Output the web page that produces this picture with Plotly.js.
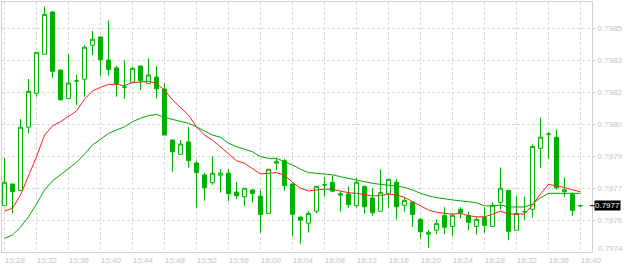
<!DOCTYPE html>
<html>
<head>
<meta charset="utf-8">
<script src="https://cdn.plot.ly/plotly-3.0.1.min.js"></script>
<style>
html,body{margin:0;padding:0;background:#fff;}
#chart{width:624px;height:266px;}
</style>
</head>
<body>
<div id="chart"></div>
<script>
// 1-minute candles, 15:28 .. 16:40
const openP = [0.797667,0.797769,0.797739,0.798035,0.798194,0.798377,0.798575,0.798303,0.798169,0.798252,
0.798260,0.798419,0.798458,0.798350,0.798313,0.798223,0.798246,0.798322,0.798239,0.798270,
0.798214,0.797975,0.797908,0.797966,0.797867,0.797811,0.797775,0.797810,0.797820,0.797731,
0.797709,0.797741,0.797712,0.797631,0.797866,0.797878,0.797769,0.797614,0.797585,0.797641,
0.797765,0.797777,0.797723,0.797722,0.797667,0.797758,0.797703,0.797641,0.797723,0.797777,
0.797669,0.797684,0.797603,0.797533,0.797552,0.797622,0.797570,0.797650,0.797622,0.797570,
0.797613,0.797570,0.797683,0.797739,0.797552,0.797639,0.797650,0.797936,0.798003,0.797988,
0.797733,0.797720,0.797667];
const highP = [0.797891,0.797769,0.798073,0.798261,0.798386,0.798600,0.798580,0.798303,0.798378,0.798280,
0.798420,0.798486,0.798458,0.798536,0.798322,0.798349,0.798319,0.798322,0.798358,0.798322,
0.798241,0.797975,0.797975,0.798036,0.797877,0.797820,0.797900,0.797839,0.797838,0.797778,
0.797749,0.797741,0.797741,0.797838,0.797892,0.797887,0.797769,0.797614,0.797642,0.797758,
0.797802,0.797808,0.797735,0.797758,0.797798,0.797758,0.797749,0.797838,0.797791,0.797792,
0.797709,0.797689,0.797609,0.797553,0.797603,0.797660,0.797631,0.797660,0.797639,0.797615,
0.797660,0.797684,0.797847,0.797739,0.797711,0.797709,0.797955,0.798081,0.798012,0.798025,
0.797800,0.797728,0.797670];
const lowP = [0.797666,0.797631,0.797736,0.798006,0.798178,0.798377,0.798267,0.798159,0.798169,0.798140,
0.798178,0.798373,0.798276,0.798276,0.798178,0.798167,0.798242,0.798209,0.798239,0.798169,
0.797998,0.797825,0.797908,0.797845,0.797658,0.797690,0.797765,0.797728,0.797688,0.797698,
0.797667,0.797681,0.797540,0.797631,0.797834,0.797737,0.797525,0.797487,0.797541,0.797631,
0.797709,0.797731,0.797639,0.797658,0.797658,0.797630,0.797620,0.797641,0.797658,0.797601,
0.797639,0.797567,0.797512,0.797470,0.797533,0.797533,0.797524,0.797606,0.797552,0.797531,
0.797540,0.797570,0.797650,0.797505,0.797552,0.797600,0.797611,0.797845,0.797887,0.797741,
0.797709,0.797620,0.797661];
const closeP = [0.797777,0.797733,0.798035,0.798203,0.798386,0.798564,0.798297,0.798164,0.798242,0.798252,
0.798410,0.798447,0.798351,0.798305,0.798239,0.798223,0.798311,0.798253,0.798280,0.798215,
0.797998,0.797920,0.797956,0.797878,0.797822,0.797751,0.797819,0.797820,0.797723,0.797714,
0.797749,0.797724,0.797625,0.797838,0.797875,0.797761,0.797627,0.797599,0.797631,0.797758,
0.797765,0.797735,0.797717,0.797672,0.797777,0.797662,0.797634,0.797728,0.797791,0.797662,
0.797692,0.797625,0.797545,0.797542,0.797583,0.797566,0.797622,0.797634,0.797589,0.797603,
0.797575,0.797669,0.797749,0.797547,0.797631,0.797639,0.797945,0.797988,0.798003,0.797751,
0.797742,0.797645,0.797667];
// fast moving average (red)
const maFast = [0.797642,0.797655,0.797717,0.797803,0.797897,0.797998,0.798041,0.798061,0.798088,0.798111,
0.798166,0.798205,0.798222,0.798236,0.798236,0.798230,0.798244,0.798248,0.798250,0.798241,
0.798209,0.798163,0.798128,0.798092,0.798037,0.797998,0.797975,0.797944,0.797913,0.797878,
0.797866,0.797842,0.797816,0.797819,0.797822,0.797811,0.797777,0.797749,0.797736,0.797741,
0.797745,0.797744,0.797736,0.797728,0.797725,0.797720,0.797713,0.797714,0.797722,0.797717,
0.797706,0.797686,0.797666,0.797647,0.797636,0.797631,0.797627,0.797631,0.797620,0.797615,
0.797615,0.797627,0.797642,0.797628,0.797628,0.797628,0.797670,0.797722,0.797767,0.797759,
0.797753,0.797741,0.797733];
// slow moving average (green)
const maSlow = [0.797514,0.797530,0.797566,0.797615,0.797675,0.797741,0.797783,0.797811,0.797842,0.797870,
0.797909,0.797952,0.797978,0.798006,0.798022,0.798037,0.798061,0.798077,0.798089,0.798095,
0.798081,0.798072,0.798065,0.798053,0.798037,0.798019,0.797998,0.797988,0.797960,0.797944,
0.797931,0.797920,0.797897,0.797889,0.797889,0.797873,0.797858,0.797838,0.797822,0.797819,
0.797817,0.797812,0.797803,0.797795,0.797789,0.797780,0.797772,0.797767,0.797764,0.797759,
0.797753,0.797741,0.797725,0.797713,0.797705,0.797698,0.797694,0.797690,0.797686,0.797681,
0.797666,0.797666,0.797670,0.797661,0.797661,0.797661,0.797675,0.797704,0.797725,0.797725,
0.797725,0.797725,0.797725];
const timeLabels = ['15:28','15:32','15:36','15:40','15:44','15:48','15:52','15:56','16:00','16:04',
'16:08','16:12','16:16','16:20','16:24','16:28','16:32','16:36','16:40'];
const priceTickVals = [0.7976,0.79775,0.7979,0.79805,0.7982,0.79835,0.7985];
const priceTickText = ['0.7976','0.7977','0.7979','0.7980','0.7982','0.7983','0.7985'];
const bottomTickVal = 0.79745, bottomTickText = '0.7974';
const lastPriceText = '0.7977';

const idx = openP.map((_, i) => i);
const GREEN = '#00b000';
const GRID = '#d9d9d9';
const LBL = '#c4c4c4';
const FONT = 'Liberation Sans, Arial, sans-serif';
const lastPrice = closeP[closeP.length - 1];

const traces = [
  {
    type: 'candlestick', x: idx, open: openP, high: highP, low: lowP, close: closeP,
    increasing: {line: {color: GREEN, width: 1}, fillcolor: '#ffffff'},
    decreasing: {line: {color: GREEN, width: 1}, fillcolor: GREEN},
    whiskerwidth: 0, hoverinfo: 'skip', showlegend: false
  },
  {type: 'scatter', mode: 'lines', x: idx, y: maSlow, line: {color: '#00a800', width: 1}, hoverinfo: 'skip', showlegend: false},
  {type: 'scatter', mode: 'lines', x: idx, y: maFast, line: {color: '#ff1a1a', width: 1}, hoverinfo: 'skip', showlegend: false}
];

const layout = {
  width: 624, height: 266,
  margin: {l: 2, r: 32, t: 2, b: 14, pad: 0},
  paper_bgcolor: '#ffffff', plot_bgcolor: '#ffffff',
  showlegend: false,
  font: {family: FONT, size: 8, color: LBL},
  xaxis: {
    range: [-0.3125, 73.44], rangeslider: {visible: false},
    tickmode: 'array', tickvals: timeLabels.map((_, k) => 4 * k), ticktext: timeLabels,
    ticklabelposition: 'outside right',
    showgrid: true, gridcolor: GRID, griddash: '3px,2px', gridwidth: 1,
    showline: true, linecolor: '#d0d0d0', linewidth: 1, mirror: true,
    ticks: '', zeroline: false, fixedrange: true,
    tickfont: {family: FONT, size: 8, color: LBL}
  },
  yaxis: {
    side: 'right', range: [0.79745, 0.7986219],
    tickmode: 'array', tickvals: priceTickVals, ticktext: priceTickText,
    showgrid: true, gridcolor: GRID, griddash: '3px,2px', gridwidth: 1,
    showline: true, linecolor: '#d0d0d0', linewidth: 1, mirror: true,
    ticks: 'outside', ticklen: 3, tickcolor: '#d0d0d0',
    zeroline: false, fixedrange: true,
    tickfont: {family: FONT, size: 8, color: LBL}
  },
  shapes: [
    {type: 'line', xref: 'paper', yref: 'y', x0: 0.9966, x1: 1.0051, y0: lastPrice, y1: lastPrice,
     line: {color: '#000000', width: 1}}
  ],
  annotations: [
    {xref: 'paper', yref: 'y', x: 1, y: bottomTickVal, text: bottomTickText, showarrow: false,
     xanchor: 'left', yanchor: 'middle', xshift: 4, yshift: 4,
     font: {family: FONT, size: 8, color: LBL}},
    {xref: 'paper', yref: 'y', x: 1, y: lastPrice, text: lastPriceText, showarrow: false,
     xanchor: 'left', yanchor: 'middle', xshift: 2, bgcolor: '#000000', borderpad: 0,
     font: {family: FONT, size: 8, color: '#ffffff'}}
  ]
};

Plotly.newPlot('chart', traces, layout, {displayModeBar: false, staticPlot: true});
</script>
</body>
</html>
